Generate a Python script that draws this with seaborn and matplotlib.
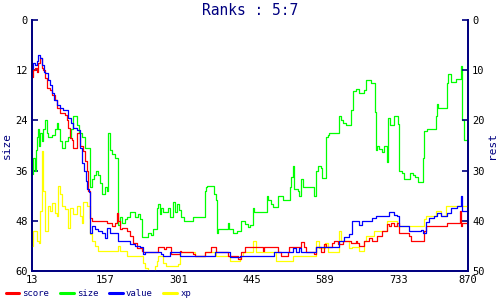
import matplotlib
matplotlib.use("Agg")
import matplotlib.pyplot as plt
import seaborn as sns
import pandas as pd
from matplotlib.lines import Line2D

# ---- data ----
size_x = [13, 15, 19, 21, 23, 25, 27, 29, 33, 35, 39, 42, 44, 48, 52, 58, 62, 64, 68, 72, 78, 84, 90, 94,
          101, 105, 111, 117, 123, 127, 131, 135, 139, 143, 147, 151, 156, 160, 162, 166, 170, 176, 180,
          182, 186, 190, 196, 200, 206, 215, 221, 225, 229, 241, 247, 251, 259, 261, 264, 267, 270, 280,
          284, 290, 294, 298, 302, 306, 312, 329, 353, 355, 357, 371, 375, 377, 379, 398, 400, 408, 416,
          424, 432, 438, 442, 447, 449, 475, 477, 483, 487, 497, 506, 520, 522, 526, 528, 536, 538, 542,
          546, 567, 571, 575, 581, 583, 591, 595, 597, 616, 620, 624, 630, 640, 644, 650, 656, 666, 670,
          679, 687, 689, 691, 695, 701, 705, 711, 713, 717, 725, 732, 734, 740, 744, 756, 762, 766, 772,
          782, 784, 789, 807, 809, 811, 829, 831, 837, 846, 856, 858, 862, 870]
size_y = [36.7, 33, 36, 31, 28, 26, 30, 27, 29, 26, 24, 27, 28, 28, 27.5, 26, 24.7, 26, 29, 30.5, 29, 28,
          26, 23, 25, 27, 28, 30.5, 30.7, 40, 38, 37, 36, 37, 39, 41.5, 40, 41, 27, 31, 32, 33, 33,
          49, 47, 48.5, 47.5, 47, 46, 47, 46.5, 47.5, 52, 51, 51.5, 50, 45, 44, 46.5, 45, 46, 45,
          47, 43.5, 46, 44, 45.5, 47, 48, 47, 41, 40, 39.8, 41.5, 43, 51, 50, 48.5, 50, 51, 50.5,
          48, 48.8, 49.5, 49, 45, 45.8, 42, 43, 44, 44.8, 42, 43, 40, 37.6, 35, 40.5, 41, 42, 38,
          40, 42, 36, 35, 35.5, 37.7, 28, 27.5, 26.9, 23, 24, 24.5, 25, 21.6, 17, 16.5, 17.5, 16.8, 14.4,
          15, 22, 31, 30, 30.8, 31.5, 30, 34, 23.5, 25, 23, 24.8, 36, 36.5, 37.9, 36.5, 37, 37.5, 38.8,
          33, 26.5, 26, 23, 20, 21, 15, 13, 14.8, 14, 11, 24, 28.8, 28.8]

score_x = [13, 15, 19, 23, 25, 29, 33, 35, 39, 42, 48, 52, 58, 62, 68, 78, 82, 84, 88, 92, 94, 101, 107,
           113, 117, 121, 123, 127, 131, 141, 160, 170, 176, 180, 182, 186, 190, 200, 206, 212, 219,
           229, 231, 261, 272, 276, 286, 304, 306, 329, 333, 353, 365, 375, 398, 418, 424, 432, 467,
           469, 497, 502, 516, 518, 542, 548, 552, 567, 571, 581, 587, 591, 603, 607, 615, 624, 640,
           650, 652, 656, 666, 675, 681, 691, 701, 711, 715, 719, 725, 730, 734, 754, 758, 784, 787,
           829, 852, 854, 856, 858, 870]
score_y = [11.4, 10, 9.6, 10.4, 8.5, 7.6, 9.5, 10, 11.5, 13.6, 14, 15, 16, 17.5, 18.5, 19, 20, 21.6, 23.6,
           24, 25.5, 22.6, 25, 26, 28, 30, 34, 39.5, 40, 40, 40.5, 41, 40.5, 38.4, 40, 41.6, 41.5, 42,
           43, 44.5, 45.4, 46, 46.2, 45.2, 45.6, 45.2, 46.6, 46, 46.2, 46.6, 47, 46.2, 45.2, 46.2, 47,
           47.6, 46.2, 45.2, 46, 45.2, 46.2, 47, 46.2, 45.2, 44.2, 45.2, 46.2, 46.6, 45.2, 46.2, 44.6,
           45.2, 44.4, 44, 44.6, 44, 44.4, 44, 44.4, 45, 44, 43.4, 44, 43, 42, 40.6, 41, 40.4, 41,
           40.5, 42.4, 43, 44, 42, 41, 40.4, 40.4, 38, 41, 40.4, 40.4]

value_x = [13, 15, 19, 23, 25, 29, 33, 36, 39, 44, 48, 52, 56, 62, 68, 74, 84, 90, 94, 101, 107, 111,
           115, 119, 121, 125, 127, 131, 137, 143, 151, 156, 160, 166, 182, 206, 215, 225, 231, 235,
           267, 270, 284, 304, 373, 402, 422, 489, 526, 532, 538, 542, 571, 616, 626, 636, 642, 656,
           662, 681, 689, 715, 725, 730, 734, 754, 778, 782, 787, 793, 803, 809, 817, 829, 837, 848,
           856, 858, 870]
value_y = [9.6, 8.6, 9, 8.2, 7, 7.6, 9, 10.4, 10.5, 12, 13, 14.5, 16, 17, 17.6, 18, 19.5, 20.6, 21.5, 22,
           25.5, 28.5, 30, 32, 33.6, 34.2, 42.4, 41, 41.6, 42, 42.4, 43.4, 41.5, 42.4, 44, 44.6, 45,
           45.2, 46.6, 46.2, 46.6, 47, 46.2, 47, 46.2, 47.3, 47, 46.2, 45.4, 46.2, 45.4, 46.2, 45.2,
           44, 43.2, 42.6, 40, 40.8, 40, 39.5, 39, 38.2, 38.8, 39, 41, 42, 41.8, 42.4, 40.2, 39.4,
           39, 38.4, 39, 38.4, 37.4, 37, 35, 38, 38]

xp_x = [13, 15, 23, 27, 29, 33, 35, 39, 44, 48, 52, 58, 62, 64, 68, 72, 78, 84, 88, 94, 101, 107, 111,
        113, 121, 127, 131, 137, 143, 160, 182, 186, 200, 229, 231, 235, 241, 255, 259, 261, 270,
        276, 300, 304, 333, 353, 375, 402, 422, 428, 447, 453, 493, 526, 571, 577, 589, 595, 616,
        620, 636, 642, 656, 666, 670, 685, 711, 730, 784, 787, 807, 817, 827, 870]
xp_y = [45, 42, 44, 44.4, 38, 26, 34, 42, 37, 38, 36.5, 38.5, 39, 33, 34.6, 37, 37.6, 41.5, 37.5, 38.6,
        37, 39, 40.5, 36.2, 37, 42.6, 44, 45, 46, 46, 45, 46, 47, 47, 48.5, 49.5, 50, 49, 48, 47,
        48.5, 49, 48.6, 46.2, 47, 46.2, 47, 48, 47, 46.2, 44, 46.2, 48, 47, 44, 45.5, 44.5, 46.2,
        42, 44, 45.5, 45.2, 46, 44, 43, 42, 40, 41, 39.6, 39, 38, 39, 37, 37]

x_ticks = [13, 157, 301, 445, 589, 733, 870]
left_ticks = [0, 12, 24, 36, 48, 60]
right_ticks = [0, 10, 20, 30, 40, 50]

NAVY = "#000080"
COL = {"score": "#ff0000", "size": "#00ff00", "value": "#0000ff", "xp": "#ffff00"}

sns.set_style("white")
plt.rcParams["font.family"] = ["DejaVu Sans Mono", "DejaVu Sans"]

fig = plt.figure(figsize=(5, 3), dpi=100)
ax = fig.add_axes([0.064, 0.097, 0.872, 0.836])
ax2 = ax.twinx()

df_size = pd.DataFrame({"x": size_x, "y": size_y})
sns.lineplot(data=df_size, x="x", y="y", ax=ax, color=COL["size"], lw=0.9,
             drawstyle="steps-post", estimator=None, sort=False)

for name, xs, ys in [("xp", xp_x, xp_y), ("score", score_x, score_y), ("value", value_x, value_y)]:
    d = pd.DataFrame({"x": xs, "y": ys})
    sns.lineplot(data=d, x="x", y="y", ax=ax2, color=COL[name], lw=0.9,
                 drawstyle="steps-post", estimator=None, sort=False)

ax.set_xlim(13, 870)
ax.set_ylim(60, 0)
ax2.set_ylim(50, 0)
ax.set_xticks(x_ticks)
ax.set_yticks(left_ticks)
ax2.set_yticks(right_ticks)

for a in (ax, ax2):
    a.spines["top"].set_visible(False)
    for s in ("left", "right", "bottom"):
        a.spines[s].set_color(NAVY)
        a.spines[s].set_linewidth(1.3)
    a.tick_params(direction="in", length=4, width=1.2, color=NAVY, labelsize=7.5,
                  labelcolor="black", pad=3)
ax.set_xlabel("")
ax.set_ylabel("size", color=NAVY, fontsize=8)
ax2.set_ylabel("rest", color=NAVY, fontsize=8, rotation=90)
ax.yaxis.set_label_coords(-0.045, 0.5)
ax2.yaxis.set_label_coords(1.044, 0.5)

fig.text(0.5, 0.965, "Ranks : 5:7", color=NAVY, fontsize=10.5, ha="center", va="center")

handles = [Line2D([0], [0], color=COL[k], lw=2.2) for k in ["score", "size", "value", "xp"]]
leg = fig.legend(handles, ["score", "size", "value", "xp"], loc="lower left",
                 bbox_to_anchor=(-0.005, -0.02), ncol=4, frameon=False, fontsize=6.5,
                 handlelength=1.5, handletextpad=0.35, columnspacing=1.2)
for t in leg.get_texts():
    t.set_color(NAVY)

fig.savefig("out.png", dpi=100)
